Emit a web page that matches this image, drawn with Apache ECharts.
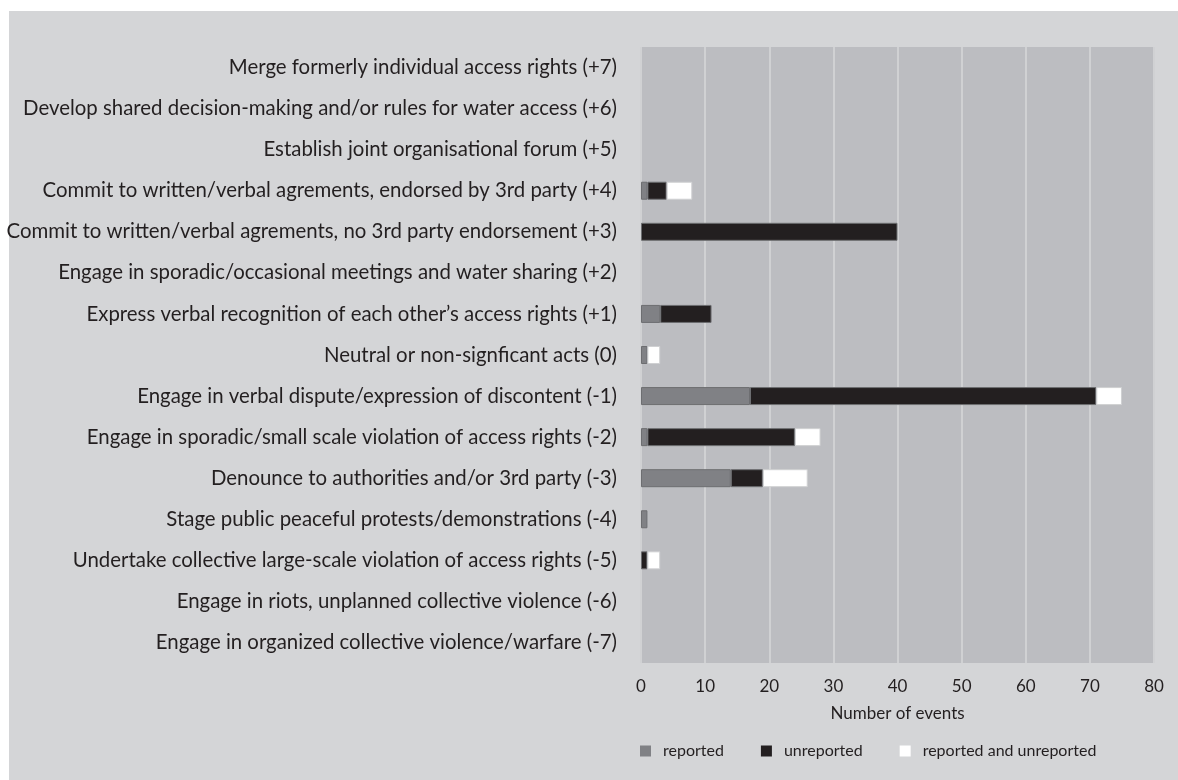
<!DOCTYPE html>
<html>
<head>
<meta charset="utf-8">
<script src="https://cdn.jsdelivr.net/npm/echarts@6/dist/echarts.min.js"></script>
<style>
html,body{margin:0;padding:0;background:#ffffff;}
#chart{width:1178px;height:780px;}
</style>
</head>
<body>
<div id="chart"></div>
<script>
const categories = [
  "Merge formerly individual access rights (+7)",
  "Develop shared decision-making and/or rules for water access (+6)",
  "Establish joint organisational forum (+5)",
  "Commit to written/verbal agrements, endorsed by 3rd party (+4)",
  "Commit to written/verbal agrements, no 3rd party endorsement (+3)",
  "Engage in sporadic/occasional meetings and water sharing (+2)",
  "Express verbal recognition of each other\u2019s access rights (+1)",
  "Neutral or non-signficant acts (0)",
  "Engage in verbal dispute/expression of discontent (-1)",
  "Engage in sporadic/small scale violation of access rights (-2)",
  "Denounce to authorities and/or 3rd party (-3)",
  "Stage public peaceful protests/demonstrations (-4)",
  "Undertake collective large-scale violation of access rights (-5)",
  "Engage in riots, unplanned collective violence (-6)",
  "Engage in organized collective violence/warfare (-7)"
];
const reported   = [0, 0, 0, 1, 0, 0, 3, 1, 17, 1, 14, 1, 0, 0, 0];
const unreported = [0, 0, 0, 3, 40, 0, 8, 0, 54, 23, 5, 0, 1, 0, 0];
const both       = [0, 0, 0, 4, 0, 0, 0, 2, 4, 4, 7, 0, 2, 0, 0];
const seriesNames = ["reported", "unreported", "reported and unreported"];
const xTicks = { min: 0, max: 80, interval: 10 };

const FONT = "Lato, 'Open Sans', sans-serif";
const TXT = "#231f20";

const chart = echarts.init(document.getElementById('chart'), null, {renderer: 'canvas'});

function mk(name, data, color, border) {
  return {
    name: name,
    type: 'bar',
    stack: 'total',
    data: data.map(v => v === 0 ? null : v),
    barWidth: 18,
    itemStyle: { color: color, borderColor: border, borderWidth: 1 },
    emphasis: { disabled: true },
    animation: false
  };
}

chart.setOption({
  animation: false,
  backgroundColor: '#ffffff',
  graphic: [{
    type: 'rect', z: -10, silent: true,
    shape: { x: 9, y: 11, width: 1178 - 9, height: 780 - 11 },
    style: { fill: '#d4d5d7' }
  }],
  grid: {
    left: 641, right: 24, top: 47, bottom: 117,
    containLabel: false,
    outerBoundsMode: 'none',
    show: true, backgroundColor: '#bcbdc1', borderWidth: 0
  },
  legend: {
    data: seriesNames,
    left: 640, top: 743, padding: 0,
    icon: 'rect', itemWidth: 11, itemHeight: 11,
    itemGap: 37,
    itemStyle: { borderWidth: 0 },
    textStyle: { fontFamily: FONT, fontSize: 16, color: TXT, padding: [0, 0, 0, 7] }
  },
  xAxis: {
    type: 'value',
    min: xTicks.min, max: xTicks.max, interval: xTicks.interval,
    axisLine: { show: false }, axisTick: { show: false },
    splitLine: { show: true, lineStyle: { color: '#d0d1d3', width: 2 } },
    axisLabel: { fontFamily: FONT, fontSize: 17, color: TXT, margin: 15 },
    name: 'Number of events', nameLocation: 'middle', nameGap: 42,
    nameTextStyle: { fontFamily: FONT, fontSize: 17, color: TXT }
  },
  yAxis: {
    type: 'category', data: categories, inverse: true,
    axisLine: { show: false }, axisTick: { show: false },
    splitLine: { show: false },
    axisLabel: { fontFamily: FONT, fontSize: 20.4, color: TXT, margin: 24, padding: [4, 0, 0, 0] }
  },
  series: [
    mk(seriesNames[0], reported, '#808185', '#6d6e71'),
    mk(seriesNames[1], unreported, '#231f20', '#6d6e71'),
    mk(seriesNames[2], both, '#ffffff', '#cfd0d2')
  ]
});
</script>
</body>
</html>
